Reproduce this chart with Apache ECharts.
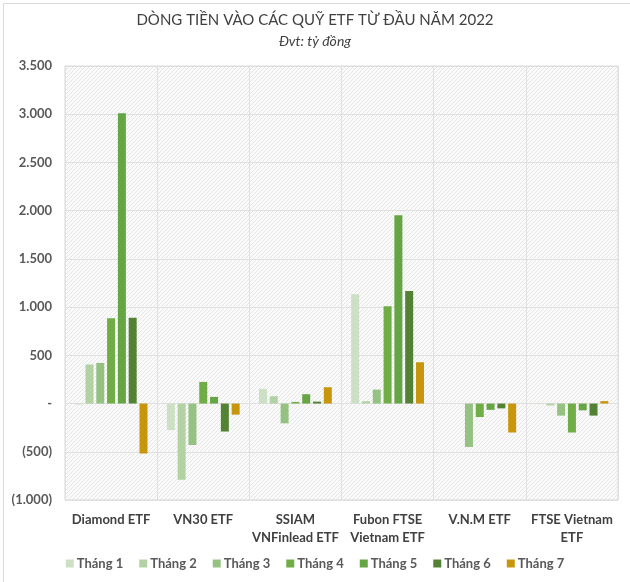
<!DOCTYPE html>
<html><head><meta charset="utf-8">
<script src="https://cdn.jsdelivr.net/npm/echarts@6/dist/echarts.min.js"></script>
<style>html,body{margin:0;padding:0;background:#fff}#c{width:630px;height:582px}</style>
</head><body><div id="c"></div>
<script>
const categories = ['Diamond ETF', 'VN30 ETF', 'SSIAM\nVNFinlead ETF', 'Fubon FTSE\nVietnam ETF', 'V.N.M ETF', 'FTSE Vietnam\nETF'];
const seriesNames = ['Tháng 1', 'Tháng 2', 'Tháng 3', 'Tháng 4', 'Tháng 5', 'Tháng 6', 'Tháng 7'];
const thang1 = [-10, -275, 152, 1134, 0, -5];
const thang2 = [405, -790, 76, 24, 0, -20];
const thang3 = [421, -430, -205, 145, -450, -125];
const thang4 = [885, 224, 17, 1010, -140, -300];
const thang5 = [3010, 69, 97, 1952, -65, -70];
const thang6 = [890, -290, 20, 1166, -50, -125];
const thang7 = [-518, -115, 169, 428, -300, 25];
const seriesValues = [thang1, thang2, thang3, thang4, thang5, thang6, thang7];
const colors = ['#cde0c5', '#b3d2a4', '#95c283', '#70ad47', '#66a544', '#548235', '#c8960c'];

function makeHatch() {
  const c = document.createElement('canvas');
  c.width = 4; c.height = 4;
  const ctx = c.getContext('2d');
  ctx.fillStyle = '#fafafa';
  ctx.fillRect(0, 0, 4, 4);
  ctx.fillStyle = '#e6e6e6';
  for (let i = 0; i < 4; i++) ctx.fillRect(3 - i, i, 1, 1);
  return c;
}

function fmt(v) {
  if (v === 0) return '-';
  const s = Math.abs(v).toString().replace(/\B(?=(\d{3})+(?!\d))/g, '.');
  return v < 0 ? '(' + s + ')' : s;
}

const chart = echarts.init(document.getElementById('c'));
chart.setOption({
  animation: false,
  textStyle: { fontFamily: 'Lato' },
  graphic: [{
    type: 'rect', left: 1, top: 1, silent: true,
    shape: { width: 627, height: 579 },
    style: { fill: 'none', stroke: '#d9d9d9', lineWidth: 1 }
  }],
  title: {
    text: 'DÒNG TIỀN VÀO CÁC QUỸ ETF TỪ ĐẦU NĂM 2022',
    subtext: 'Đvt: tỷ đồng',
    left: 'center', top: 8, itemGap: 6,
    textStyle: { fontFamily: 'Lato', fontSize: 15, fontWeight: 'normal', color: '#404040' },
    subtextStyle: { fontFamily: 'Lato', fontSize: 14, fontStyle: 'italic', color: '#404040' }
  },
  legend: {
    data: seriesNames, bottom: 7, left: 'center',
    itemWidth: 8, itemHeight: 8, itemGap: 16,
    icon: 'rect',
    textStyle: { fontFamily: 'Lato', fontSize: 13, fontWeight: 'bold', color: '#595959', padding: [0, 0, 0, -2] }
  },
  grid: {
    left: 65, right: 12, top: 66, bottom: 82,
    show: true, borderColor: '#d9d9d9', borderWidth: 1,
    backgroundColor: { image: makeHatch(), repeat: 'repeat' }
  },
  xAxis: {
    type: 'category', data: categories,
    axisLine: { show: false }, axisTick: { show: false },
    splitLine: { show: true, lineStyle: { color: '#e0e0e0' } },
    axisLabel: { interval: 0, margin: 11, fontFamily: 'Lato', fontSize: 13, fontWeight: 'bold', color: '#404040', lineHeight: 18 }
  },
  yAxis: {
    type: 'value', min: -1000, max: 3500, interval: 500,
    axisLine: { show: false }, axisTick: { show: false },
    splitLine: { lineStyle: { color: '#e0e0e0' } },
    axisLabel: { formatter: fmt, margin: 13, fontFamily: 'Lato', fontSize: 13, fontWeight: 'bold', color: '#595959' }
  },
  series: seriesNames.map((n, i) => ({
    name: n, type: 'bar', data: seriesValues[i],
    itemStyle: { color: colors[i] },
    barGap: '35%', barCategoryGap: '21%'
  }))
});
</script></body></html>
